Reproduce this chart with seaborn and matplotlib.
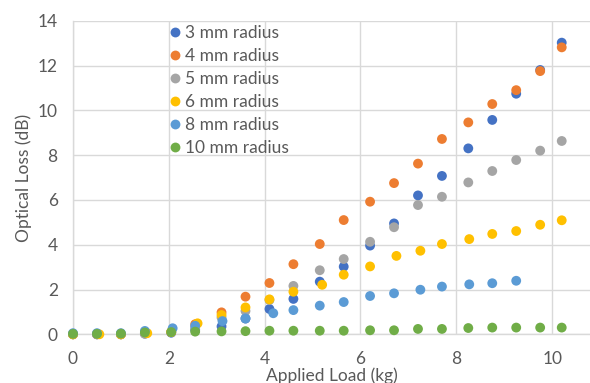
import matplotlib
matplotlib.use("Agg")
import matplotlib.pyplot as plt
import seaborn as sns
import pandas as pd

# ---- data ----
series_names = ["3 mm radius", "4 mm radius", "5 mm radius", "6 mm radius", "8 mm radius", "10 mm radius"]
colors = ["#4472C4", "#ED7D31", "#A5A5A5", "#FFC000", "#5B9BD5", "#70AD47"]

x_common = [0, 0.5, 1.0, 1.5, 2.05, 2.55, 3.1, 3.6, 4.1, 4.6, 5.15, 5.65, 6.2, 6.7, 7.2, 7.7, 8.25, 8.75, 9.25, 9.75, 10.2]

x_3mm = x_common
y_3mm = [0, 0, 0, 0.03, 0.07, 0.2, 0.35, 0.7, 1.13, 1.58, 2.35, 3.02, 3.96, 4.95, 6.2, 7.07, 8.3, 9.57, 10.74, 11.8, 13.02]

x_4mm = x_common
y_4mm = [0, 0, 0, 0.05, 0.1, 0.45, 0.98, 1.68, 2.29, 3.13, 4.03, 5.1, 5.92, 6.75, 7.62, 8.72, 9.46, 10.28, 10.9, 11.75, 12.81]

x_5mm = x_common
y_5mm = [0, 0, 0, 0.02, 0.1, 0.3, 0.75, 1.04, 1.53, 2.16, 2.86, 3.36, 4.13, 4.78, 5.77, 6.14, 6.78, 7.29, 7.78, 8.2, 8.63]

x_6mm = [0, 0.55, 1.0, 1.55, 2.05, 2.6, 3.1, 3.6, 4.1, 4.6, 5.2, 5.65, 6.2, 6.75, 7.25, 7.7, 8.27, 8.75, 9.25, 9.75, 10.2]
y_6mm = [0, 0, 0, 0.05, 0.1, 0.49, 0.86, 1.2, 1.56, 1.9, 2.21, 2.66, 3.03, 3.5, 3.73, 4.03, 4.25, 4.48, 4.61, 4.89, 5.09]

x_8mm = [0, 0.5, 1.0, 1.5, 2.08, 2.55, 3.12, 3.6, 4.18, 4.6, 5.15, 5.65, 6.2, 6.7, 7.25, 7.7, 8.27, 8.75, 9.25]
y_8mm = [0.05, 0.05, 0.05, 0.15, 0.27, 0.38, 0.59, 0.71, 0.94, 1.08, 1.28, 1.44, 1.71, 1.83, 1.99, 2.13, 2.23, 2.28, 2.39]

x_10mm = x_common
y_10mm = [0.02, 0.02, 0.03, 0.08, 0.1, 0.12, 0.13, 0.14, 0.16, 0.16, 0.16, 0.16, 0.18, 0.18, 0.24, 0.24, 0.28, 0.3, 0.3, 0.3, 0.3]

x_ticks = [0, 2, 4, 6, 8, 10]
y_ticks = [0, 2, 4, 6, 8, 10, 12, 14]

xs = [x_3mm, x_4mm, x_5mm, x_6mm, x_8mm, x_10mm]
ys = [y_3mm, y_4mm, y_5mm, y_6mm, y_8mm, y_10mm]
frames = [pd.DataFrame({"load": xv, "loss": yv, "series": name}) for name, xv, yv in zip(series_names, xs, ys)]
df = pd.concat(frames, ignore_index=True)

# ---- style ----
sns.set_theme(style="white")
plt.rcParams["font.family"] = ["Lato", "DejaVu Sans"]
text_color = "#595959"
grid_color = "#D9D9D9"

fig = plt.figure(figsize=(5.9, 3.83), dpi=100)
ax = fig.add_axes([73 / 590, 1 - 334.3 / 383, (590 - 73) / 590, (334.3 - 20.7) / 383])

sns.scatterplot(data=df, x="load", y="loss", hue="series", hue_order=series_names,
                palette=colors, s=50, edgecolor="none", linewidth=0, ax=ax,
                clip_on=False, zorder=3)

ax.set_xlim(0, 10.79)
ax.set_ylim(0, 14)
ax.set_xticks(x_ticks)
ax.set_yticks(y_ticks)
ax.grid(True, color=grid_color, linewidth=1.0)
ax.set_axisbelow(True)
for side in ["top", "right"]:
    ax.spines[side].set_visible(False)
for side in ["left", "bottom"]:
    ax.spines[side].set_color(grid_color)
    ax.spines[side].set_linewidth(1.0)
ax.tick_params(axis="both", length=0, labelsize=12.5, colors=text_color)
ax.tick_params(axis="y", pad=11)
ax.tick_params(axis="x", pad=12)

ax.set_xlabel("Applied Load (kg)", fontsize=12.5, color=text_color, labelpad=0)
ax.set_ylabel("Optical Loss (dB)", fontsize=12.5, color=text_color, labelpad=4)

leg = ax.legend(loc="upper left", bbox_to_anchor=(159 / 590, 1 - 18 / 383),
                bbox_transform=fig.transFigure, frameon=False, fontsize=12.5,
                handletextpad=0.1, labelspacing=0.4, borderaxespad=0,
                handlelength=1.0, markerscale=1.0)
for t in leg.get_texts():
    t.set_color(text_color)

fig.savefig("out.png", dpi=100)
